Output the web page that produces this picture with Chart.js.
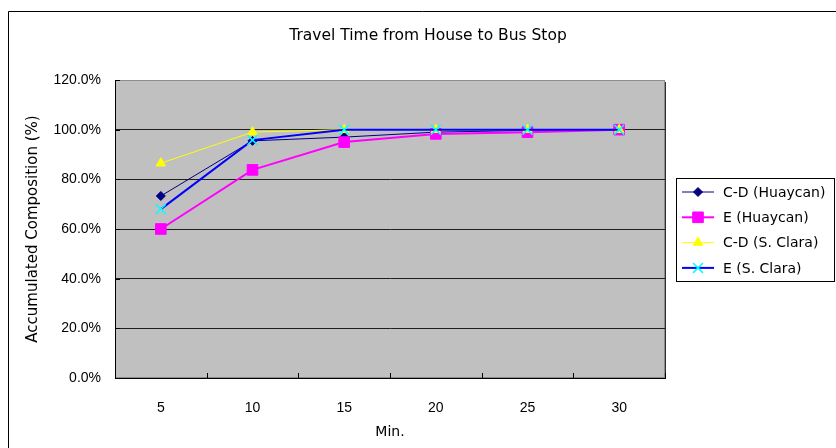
<!DOCTYPE html>
<html>
<head>
<meta charset="utf-8">
<script src="https://cdn.jsdelivr.net/npm/chart.js@4/dist/chart.umd.min.js"></script>
<style>
  html, body { margin: 0; padding: 0; background: #fff; }
  #wrap { width: 836px; height: 448px; position: relative; }
</style>
</head>
<body>
<div id="wrap"><canvas id="c" width="836" height="448"></canvas></div>
<script>
// Travel time (minutes) and accumulated share of households (%)
const minutes = ['5', '10', '15', '20', '25', '30'];
const cdHuaycan = [73.3, 95.5, 97.0, 99.0, 99.7, 100.0];
const eHuaycan  = [60.0, 83.8, 95.0, 98.3, 99.0, 100.0];
const cdSClara  = [86.5, 99.0, 100.0, 100.0, 100.0, 100.0];
const eSClara   = [68.0, 95.8, 100.0, 100.0, 100.0, 100.0];
const seriesNames = ['C-D (Huaycan)', 'E (Huaycan)', 'C-D (S. Clara)', 'E (S. Clara)'];
const yMin = 0, yMax = 120, yStep = 20;

const chartTitle = 'Travel Time from House to Bus Stop';
const yTitle = 'Accumulated Composition (%)';
const xTitle = 'Min.';

const FONT = '"Liberation Sans", Arial, sans-serif';
const WIDE = '"DejaVu Sans", Verdana, sans-serif';

// Grey plotting area, its frame and the outer chart frame
const frame = {
  id: 'frame',
  beforeDraw(chart) {
    const { ctx, chartArea: a } = chart;
    ctx.save();
    ctx.fillStyle = '#c0c0c0';
    ctx.fillRect(a.left, a.top, a.right - a.left, a.bottom - a.top);
    ctx.strokeStyle = '#8c8c8c';
    ctx.lineWidth = 1;
    ctx.strokeRect(a.left + 0.5, a.top + 0.5, a.right - a.left - 1, a.bottom - a.top - 1);
    ctx.strokeStyle = '#303030';
    ctx.beginPath();
    ctx.moveTo(a.right + 0.5, a.top + 2);
    ctx.lineTo(a.right + 0.5, a.bottom + 0.5);
    ctx.lineTo(a.left, a.bottom + 0.5);
    ctx.stroke();
    // outer frame
    ctx.strokeStyle = '#000';
    ctx.beginPath();
    ctx.moveTo(8.5, 460);
    ctx.lineTo(8.5, 11.5);
    ctx.lineTo(850, 11.5);
    ctx.stroke();
    ctx.restore();
  },
  beforeDatasetsDraw(chart) {
    // short tick marks pointing into the plotting area
    const { ctx, chartArea: a, scales: { x, y } } = chart;
    ctx.save();
    ctx.strokeStyle = '#000';
    ctx.lineWidth = 1;
    ctx.beginPath();
    const half = (x.getPixelForValue(1) - x.getPixelForValue(0)) / 2;
    for (let i = 0; i <= minutes.length; i++) {
      const px = Math.round(x.getPixelForValue(i) - half) + 0.5;
      ctx.moveTo(px, a.bottom);
      ctx.lineTo(px, a.bottom - 5);
    }
    y.ticks.forEach(t => {
      const py = Math.round(y.getPixelForValue(t.value)) + 0.5;
      ctx.moveTo(a.left, py);
      ctx.lineTo(a.left + 5, py);
    });
    ctx.stroke();
    ctx.restore();
  },
  afterDraw(chart) {
    const { ctx } = chart;
    ctx.save();
    ctx.fillStyle = '#000';
    ctx.font = '15.5px ' + WIDE;
    ctx.textAlign = 'center';
    ctx.textBaseline = 'middle';
    ctx.fillText(chartTitle, 428, 36);
    ctx.restore();
  }
};

// Legend box on the right, drawn from the dataset styles
const sideLegend = {
  id: 'sideLegend',
  afterDraw(chart) {
    const { ctx } = chart;
    const box = { l: 676, t: 178, r: 834, b: 281 };
    ctx.save();
    ctx.fillStyle = '#fff';
    ctx.fillRect(box.l, box.t, box.r - box.l, box.b - box.t);
    ctx.strokeStyle = '#000';
    ctx.lineWidth = 1;
    ctx.strokeRect(box.l + 0.5, box.t + 0.5, box.r - box.l, box.b - box.t);
    ctx.font = '14px ' + WIDE;
    ctx.textBaseline = 'middle';
    chart.data.datasets.forEach((ds, i) => {
      const yy = 192 + i * 25.3;
      ctx.strokeStyle = ds.borderColor;
      ctx.lineWidth = ds.borderWidth;
      ctx.beginPath();
      ctx.moveTo(682, yy);
      ctx.lineTo(714, yy);
      ctx.stroke();
      ctx.fillStyle = ds.pointBackgroundColor;
      ctx.strokeStyle = ds.pointBorderColor;
      ctx.lineWidth = ds.pointBorderWidth;
      Chart.helpers.drawPoint(ctx, { pointStyle: ds.pointStyle, radius: ds.pointRadius, rotation: 0, borderWidth: ds.pointBorderWidth }, 698, yy);
      ctx.fillStyle = '#000';
      ctx.fillText(ds.label, 723, yy + 1);
    });
    ctx.restore();
  }
};

new Chart(document.getElementById('c'), {
  type: 'line',
  data: {
    labels: minutes,
    datasets: [
      { label: seriesNames[0], data: cdHuaycan, order: 3,
        borderColor: '#000080', borderWidth: 1,
        pointStyle: 'rectRot', pointRadius: 4.5, pointBackgroundColor: '#000080', pointBorderColor: '#000080', pointBorderWidth: 1 },
      { label: seriesNames[1], data: eHuaycan, order: 2,
        borderColor: '#ff00ff', borderWidth: 2,
        pointStyle: 'rect', pointRadius: 7.5, pointBackgroundColor: '#ff00ff', pointBorderColor: '#ff00ff', pointBorderWidth: 1 },
      { label: seriesNames[2], data: cdSClara, order: 1,
        borderColor: '#ffff00', borderWidth: 1,
        pointStyle: 'triangle', pointRadius: 5.5, pointBackgroundColor: '#ffff00', pointBorderColor: '#ffff00', pointBorderWidth: 1 },
      { label: seriesNames[3], data: eSClara, order: 0,
        borderColor: '#0000ff', borderWidth: 2,
        pointStyle: 'crossRot', pointRadius: 7, pointBackgroundColor: '#00ffff', pointBorderColor: '#00ffff', pointBorderWidth: 1.5 }
    ]
  },
  options: {
    responsive: false,
    devicePixelRatio: 1,
    animation: false,
    layout: { padding: { left: 0, top: 80, right: 171, bottom: 0 } },
    elements: { line: { tension: 0, fill: false } },
    plugins: { legend: { display: false }, title: { display: false }, tooltip: { enabled: false } },
    scales: {
      x: {
        type: 'category',
        offset: true,
        grid: { display: false, drawTicks: false },
        border: { display: true, color: '#000', width: 1 },
        ticks: { color: '#000', font: { family: FONT, size: 14 }, padding: 22, maxRotation: 0 },
        title: { display: true, text: xTitle, color: '#000', font: { family: WIDE, size: 14 }, padding: { top: 0, bottom: 7 } },
        afterFit(s) { s.height = 70; }
      },
      y: {
        min: yMin, max: yMax,
        ticks: { stepSize: yStep, color: '#000', font: { family: FONT, size: 14 }, padding: 14,
                 callback: v => v.toFixed(1) + '%' },
        grid: { drawTicks: false, lineWidth: 1,
                color: c => (c.tick.value === yMin || c.tick.value === yMax) ? 'rgba(0,0,0,0)' : '#1e1e1e' },
        border: { display: true, color: '#000', width: 1 },
        title: { display: true, text: yTitle, color: '#000', font: { family: WIDE, size: 15 }, padding: { top: 24, bottom: 0 } },
        afterFit(s) { s.width = 115; }
      }
    }
  },
  plugins: [frame, sideLegend]
});
</script>
</body>
</html>
